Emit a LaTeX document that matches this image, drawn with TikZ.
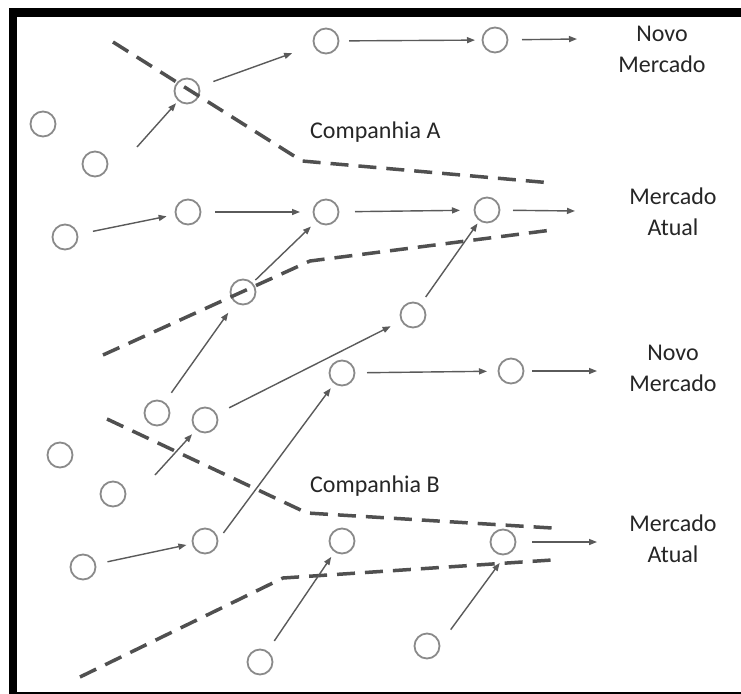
\documentclass[tikz,border=0pt]{standalone}
\usepackage{fontspec}
\setmainfont{Carlito}
\usetikzlibrary{arrows.meta}
\definecolor{ringgray}{HTML}{8A8A8A}
\definecolor{flowgray}{HTML}{5A5A5A}
\definecolor{dashgray}{HTML}{505050}
\definecolor{labelgray}{HTML}{262626}
\begin{document}
\begin{tikzpicture}[x=1pt,y=-1pt,
  firm/.style={circle, draw=ringgray, line width=1.8pt, minimum size=25pt,
    inner sep=0pt, outer sep=0pt},
  flow/.style={draw=flowgray, line width=1.4pt, -{Triangle[length=8pt,width=6pt]}},
  boundary/.style={draw=dashgray, line width=3.5pt, dash pattern=on 18pt off 10pt},
  market/.style={align=center, font=\fontsize{24}{31}\selectfont, text=labelgray,
    inner sep=0pt, anchor=base},
  firmname/.style={font=\fontsize{24}{31}\selectfont, text=labelgray,
    inner sep=0pt, anchor=base west}]
\useasboundingbox (0,0) rectangle (741,693);
\clip (0,0) rectangle (741,693);
\fill[white] (0,0) rectangle (741,693);
% black frame (partly cut off at the right and bottom)
\draw[line width=8.5pt] (13,12.3) rectangle (760,696.5);

% firms (circles)
\node[firm] (c1)  at (43,124) {};
\node[firm] (c2)  at (95,164) {};
\node[firm] (c3)  at (187,91) {};
\node[firm] (c4)  at (326,41) {};
\node[firm] (c5)  at (495,40) {};
\node[firm] (c6)  at (65,237) {};
\node[firm] (c7)  at (188,212) {};
\node[firm] (c8)  at (326,212) {};
\node[firm] (c9)  at (487,210) {};
\node[firm] (c10) at (243,292) {};
\node[firm] (c11) at (413,315) {};
\node[firm] (c12) at (157,413) {};
\node[firm] (c13) at (205,420) {};
\node[firm] (c14) at (342,373) {};
\node[firm] (c15) at (511,371) {};
\node[firm] (c16) at (60,455) {};
\node[firm] (c17) at (113,494) {};
\node[firm] (c18) at (83,567) {};
\node[firm] (c19) at (205,541) {};
\node[firm] (c20) at (342,541) {};
\node[firm] (c21) at (503,542) {};
\node[firm] (c22) at (260,662) {};
\node[firm] (c23) at (427,646) {};

% free ends of the flows
\coordinate (s1)  at (137,147);
\coordinate (s15) at (155,475);
\coordinate (e4)  at (577,39);
\coordinate (e8)  at (575,211);
\coordinate (e14) at (597,371);
\coordinate (e19) at (597,542);

% company boundaries
\coordinate (ba1) at (113,42);  \coordinate (ba2) at (302,161); \coordinate (ba3) at (552,183);
\coordinate (bb1) at (103,355); \coordinate (bb2) at (310,261); \coordinate (bb3) at (552,230);
\coordinate (bc1) at (107,419); \coordinate (bc2) at (307,513); \coordinate (bc3) at (552,528);
\coordinate (bd1) at (80,677);  \coordinate (bd2) at (283,578); \coordinate (bd3) at (552,560);
\draw[boundary] (ba1) -- (ba2) -- (ba3);
\draw[boundary] (bb1) -- (bb2) -- (bb3);
\draw[boundary] (bc1) -- (bc2) -- (bc3);
\draw[boundary] (bd1) -- (bd2) -- (bd3);

% flows, upper part
\draw[flow, shorten >=4pt] (s1) -- (c3);
\draw[flow, shorten <=15.5pt, shorten >=23.5pt] (c3) -- (c4);
\draw[flow, shorten <=10.5pt, shorten >=7.5pt] (c4) -- (c5);
\draw[flow, shorten <=14.5pt] (c5) -- (e4);
\draw[flow, shorten <=16pt, shorten >=9.3pt] (c6) -- (c7);
\draw[flow, shorten <=14.5pt, shorten >=13.5pt] (c7) -- (c8);
\draw[flow, shorten <=16.5pt, shorten >=14.5pt] (c8) -- (c9);
\draw[flow, shorten <=13.5pt] (c9) -- (e8);
\draw[flow, shorten <=4.7pt, shorten >=8.5pt] (c10) -- (c8);
\draw[flow, shorten <=12.3pt, shorten >=13pt] (c12) -- (c10);
\draw[flow, shorten <=14.5pt, shorten >=12.5pt] (c13) -- (c11);
\draw[flow, shorten <=9.5pt, shorten >=4pt] (c11) -- (c9);

% flows, lower part
\draw[flow, shorten <=12.5pt, shorten >=11.5pt] (c14) -- (c15);
\draw[flow, shorten <=8.5pt] (c15) -- (e14);
\draw[flow, shorten >=6.7pt] (s15) -- (c13);
\draw[flow, shorten <=12.5pt, shorten >=6.5pt] (c18) -- (c19);
\draw[flow, shorten <=10pt, shorten >=6.5pt] (c19.east) -- (c14);
\draw[flow, shorten <=13pt, shorten >=6.7pt] (c22) -- (c20);
\draw[flow, shorten <=16.5pt] (c21) -- (e19);
\draw[flow, shorten <=19pt, shorten >=11pt] (c23.5) -- (c21.285);

% labels (base anchor sits on the last line)
\node[market] (m1) at (662,72)  {Novo\\Mercado};
\node[market] (m2) at (673,235) {Mercado\\Atual};
\node[market] (m3) at (673,391) {Novo\\Mercado};
\node[market] (m4) at (673,562) {Mercado\\Atual};
\node[firmname] (ca) at (310,138) {Companhia A};
\node[firmname] (cb) at (310,492) {Companhia B};
\end{tikzpicture}
\end{document}
